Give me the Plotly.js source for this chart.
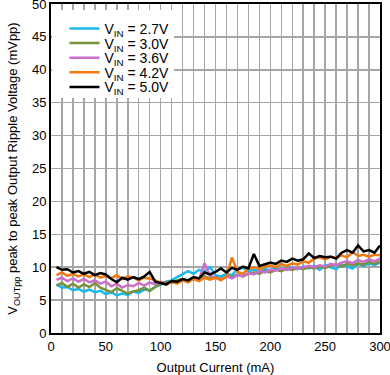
<!DOCTYPE html>
<html><head><meta charset="utf-8">
<script src="https://cdn.plot.ly/plotly-3.0.1.min.js"></script>
<style>html,body{margin:0;padding:0;background:#fff}#c{width:390px;height:375px}</style>
</head><body><div id="c"></div>
<script>
const current = [5,10,15,20,25,30,35,40,45,50,55,60,65,70,75,80,85,90,95,100,105,110,115,120,125,130,135,140,145,150,155,160,165,170,175,180,185,190,195,200,205,210,215,220,225,230,235,240,245,250,255,260,265,270,275,280,285,290,295,300];
const v27 = [7.4,6.9,7.0,6.5,6.7,6.3,6.6,6.2,6.4,5.9,6.2,5.7,6.0,5.8,6.3,6.1,6.6,6.5,7.0,7.3,7.8,8.0,8.5,8.9,9.4,9.0,9.6,9.3,10.0,8.8,8.6,9.0,8.8,9.7,9.9,9.4,9.6,9.3,9.7,9.5,9.9,9.6,9.8,10.0,9.7,10.1,9.8,10.2,9.6,10.3,10.0,9.7,10.4,10.1,9.8,10.5,10.2,10.6,10.3,10.7];
const v30 = [7.2,7.6,7.0,7.5,6.9,7.4,7.0,7.6,6.9,6.6,6.2,6.8,6.4,6.0,6.3,6.5,6.9,6.4,7.0,7.5,7.8,7.6,8.0,8.2,8.0,8.4,8.2,8.6,8.3,8.5,8.2,8.7,8.5,8.9,8.6,9.0,9.2,9.0,9.4,9.2,9.6,9.4,9.8,9.6,9.9,9.7,10.0,9.8,10.1,9.9,10.2,10.4,10.1,10.5,10.3,10.6,10.4,10.8,10.5,10.9];
const v36 = [8.1,8.4,7.9,8.3,7.8,8.2,7.7,8.0,7.5,7.8,7.1,7.5,6.9,7.3,7.1,7.6,7.2,7.7,7.4,7.8,7.4,7.9,7.6,8.1,7.8,8.3,8.1,10.6,8.7,8.4,8.1,8.6,8.3,8.8,8.6,9.1,8.9,9.4,9.2,9.6,9.5,9.8,9.6,9.9,9.8,10.0,10.2,10.0,10.3,10.1,10.5,10.3,10.7,10.9,10.6,11.1,10.8,11.2,10.9,11.3];
const v42 = [8.8,9.2,8.7,9.0,8.6,8.9,8.5,8.9,8.4,8.7,8.3,8.8,8.2,8.6,8.4,8.0,8.4,8.3,8.0,7.6,7.3,7.8,7.5,8.0,7.7,8.2,7.9,8.4,8.1,8.4,8.0,8.6,11.5,9.3,9.0,9.8,10.0,9.7,10.1,10.3,10.0,10.5,10.2,10.6,10.4,10.9,10.7,11.3,11.5,11.2,11.6,11.4,11.8,11.5,12.3,11.7,11.9,11.6,11.9,11.8];
const v50 = [10.0,9.6,9.7,9.2,9.4,9.0,9.3,8.8,9.1,8.9,8.2,7.7,8.4,8.1,8.5,8.2,8.6,9.3,7.8,7.6,7.4,7.9,7.8,8.2,8.0,8.5,8.3,9.2,8.9,9.3,9.8,9.2,9.9,9.6,10.1,9.8,12.0,10.2,10.4,10.7,10.5,11.0,10.8,11.3,11.0,11.2,12.1,11.4,11.7,11.5,11.6,11.3,12.2,12.6,12.2,13.3,12.4,12.6,12.2,13.3];
const names = ['V<sub>IN</sub> = 2.7V','V<sub>IN</sub> = 3.0V','V<sub>IN</sub> = 3.6V','V<sub>IN</sub> = 4.2V','V<sub>IN</sub> = 5.0V'];
const series = [v27, v30, v36, v42, v50];
const colors = ['#1ab8ee','#76923c','#cc6dcc','#f07a10','#000000'];

const traces = series.map((s,i)=>({
  x: current, y: s, type:'scatter', mode:'lines', name: names[i],
  line:{color:colors[i], width:2.5}
}));

const fam = 'Liberation Sans, Arial, sans-serif';
const layout = {
  width:390, height:375,
  margin:{l:51, r:10, t:4, b:42},
  paper_bgcolor:'#fff', plot_bgcolor:'#fff',
  font:{family:fam, color:'#000', size:14},
  showlegend:true,
  legend:{x:0.041, y:0.982, xanchor:'left', yanchor:'top', bgcolor:'#fff', borderwidth:0,
          font:{family:fam, size:14, color:'#000'}, tracegroupgap:0, itemwidth:30},
  xaxis:{range:[0,300], dtick:50, tick0:0, showgrid:true, gridcolor:'#a6a6a6', gridwidth:1.5,
         minor:{dtick:10, showgrid:true, gridcolor:'#a6a6a6', gridwidth:1.5},
         showline:true, linecolor:'#000', linewidth:2, mirror:true, ticks:'', zeroline:false,
         ticklabeloverflow:'allow', tickfont:{size:13},
         title:{text:'Output Current (mA)', font:{size:13}, standoff:12}},
  yaxis:{range:[0,50], dtick:5, tick0:0, showgrid:true, gridcolor:'#a6a6a6', gridwidth:1.5,
         showline:true, linecolor:'#000', linewidth:2, mirror:true, ticks:'', zeroline:false,
         ticklabeloverflow:'allow', tickfont:{size:13},
         title:{text:'V<sub>OUTpp</sub> peak to peak Output Ripple Voltage (mVpp)', font:{size:13}, standoff:11}}
};
Plotly.newPlot('c', traces, layout, {staticPlot:true, displayModeBar:false}).then(gd => {
  // tighten legend row spacing to match the reference
  const rows = gd.querySelectorAll('.legend .traces');
  if (rows.length < 2) return;
  const parse = t => { const m = /translate\(\s*([-\d.e]+)[ ,]+([-\d.e]+)\s*\)/.exec(t.getAttribute('transform') || ''); return m ? [parseFloat(m[1]), parseFloat(m[2])] : null; };
  const p0 = parse(rows[0]);
  if (!p0) return;
  const step = 14.6, shift = 3;
  rows.forEach((r, i) => { const p = parse(r); if (p) r.setAttribute('transform', `translate(${p[0]},${p0[1] + shift + i * step})`); });
  const bg = gd.querySelector('.legend .bg');
  if (bg) {
    bg.setAttribute('height', 88);
    const x = parseFloat(bg.getAttribute('x') || 0), w = parseFloat(bg.getAttribute('width'));
    bg.setAttribute('x', x - 12); bg.setAttribute('width', w + 12);
  }
});
</script></body></html>
